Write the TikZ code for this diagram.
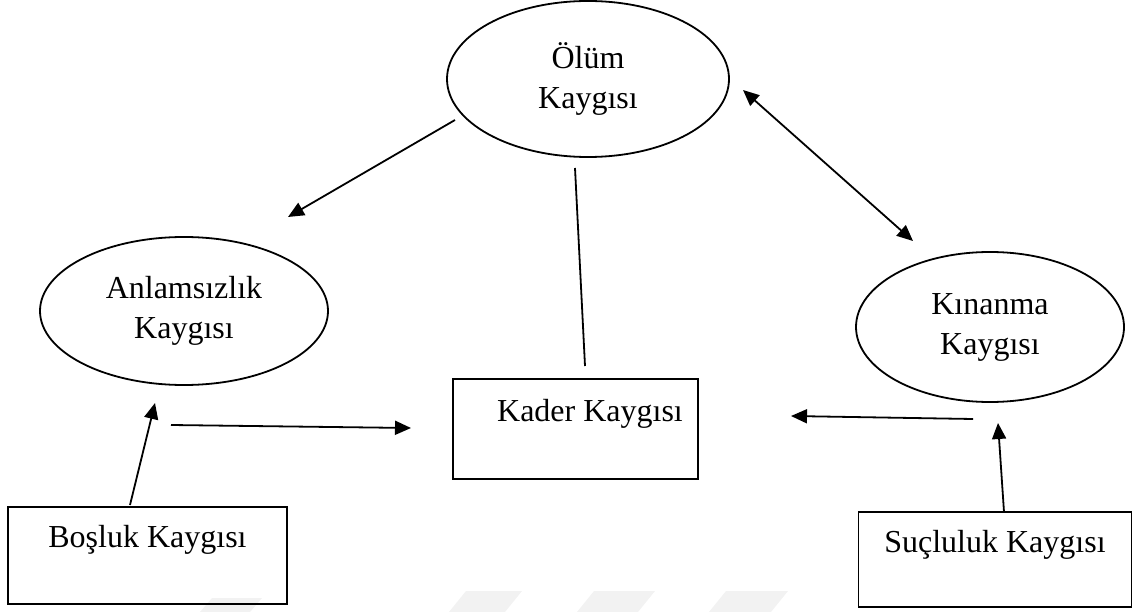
\documentclass[tikz,border=0pt]{standalone}
\usepackage{fontspec}
\setmainfont{Liberation Serif}
\usetikzlibrary{shapes.geometric,arrows.meta}
\begin{document}
\begin{tikzpicture}[x=1pt,y=-1pt,
  every node/.style={font=\fontsize{32}{40}\selectfont, align=center, inner sep=0pt},
  oval/.style={ellipse, draw, line width=1.8pt},
  box/.style={rectangle, draw, line width=1.8pt, anchor=base},
  conn/.style={line width=1.8pt},
  arr/.style={conn, -{Triangle[length=16pt,width=14pt]}},
  darr/.style={conn, {Triangle[length=16pt,width=14pt]}-{Triangle[length=16pt,width=14pt]}},
  wm/.style={fill=black!5, draw=none}]
\useasboundingbox (0,0) rectangle (1137,612);
% watermark stripes
\fill[wm] (212,598) -- (262,598) -- (250,612) -- (200,612) -- cycle;
\fill[wm] (466,591) -- (522,591) -- (505,612) -- (449,612) -- cycle;
\fill[wm] (594,591) -- (655,591) -- (638,612) -- (577,612) -- cycle;
\fill[wm] (726,591) -- (788,591) -- (771,612) -- (709,612) -- cycle;
% nodes
\node[oval, minimum width=282pt, minimum height=156pt] (olum) at (588,79) {Ölüm\\Kaygısı};
\node[oval, minimum width=288pt, minimum height=148pt] (anl) at (184,311) {Anlamsızlık\\Kaygısı};
\node[oval, minimum width=268pt, minimum height=150pt] (kin) at (990,327) {Kınanma\\Kaygısı};
\node[box, minimum width=245pt, text height=42pt, text depth=58pt] (kader) at (575.5,421) {\hspace*{29pt}Kader Kaygısı};
\node[box, minimum width=279pt, text height=40pt, text depth=57pt] (bos) at (147.5,547) {Boşluk Kaygısı};
\node[box, minimum width=273pt, text height=40pt, text depth=55pt] (suc) at (995,552) {Suçluluk Kaygısı};
% connector end points
\coordinate (a1s) at (455,120);
\coordinate (a1e) at (288,217);
\coordinate (l2s) at (575,168);
\coordinate (l2e) at (585,366);
\coordinate (a3s) at (743,90);
\coordinate (a3e) at (913,241);
\coordinate (a4s) at (171,425);
\coordinate (a4e) at (411,428);
\coordinate (a5s) at (130,505);
\coordinate (a5e) at (155,403);
\coordinate (a6s) at (973,419);
\coordinate (a6e) at (791,416);
\coordinate (a7s) at (1004,512);
\coordinate (a7e) at (998,423);
% connectors
\draw[arr] (a1s) -- (a1e);
\draw[conn] (l2s) -- (l2e);
\draw[darr] (a3s) -- (a3e);
\draw[arr] (a4s) -- (a4e);
\draw[arr] (a5s) -- (a5e);
\draw[arr] (a6s) -- (a6e);
\draw[arr] (a7s) -- (a7e);
\end{tikzpicture}
\end{document}
